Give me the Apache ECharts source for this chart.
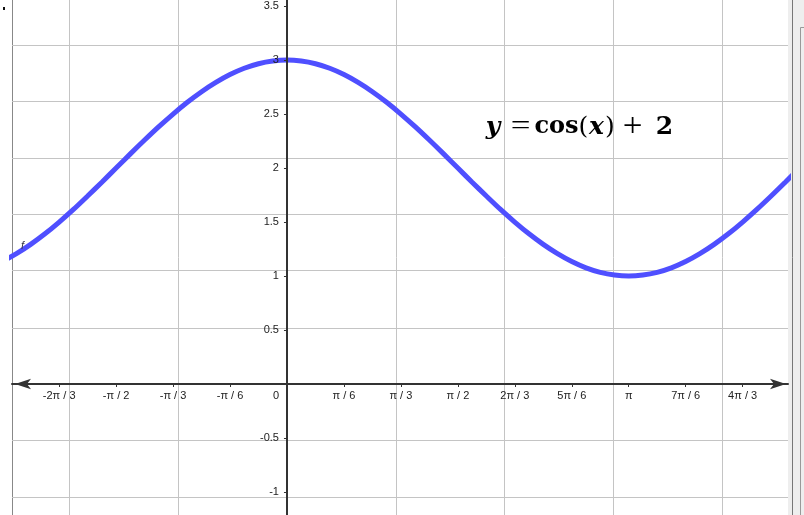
<!DOCTYPE html>
<html><head><meta charset="utf-8">
<script src="https://cdn.jsdelivr.net/npm/echarts@6/dist/echarts.min.js"></script>
<style>html,body{margin:0;padding:0;background:#fff}#c{width:804px;height:515px}</style>
</head><body><div id="c"></div>
<script>
const PI6 = Math.PI / 6;
// x tick positions in multiples of pi/6, with their labels
const xTickMultiples = [-4, -3, -2, -1, 0, 1, 2, 3, 4, 5, 6, 7, 8];
const xTickLabels = ['-2π / 3', '-π / 2', '-π / 3', '-π / 6', '0', 'π / 6', 'π / 3', 'π / 2', '2π / 3', '5π / 6', 'π', '7π / 6', '4π / 3'];
// y ticks
const yTickValues = [-1, -0.5, 0.5, 1, 1.5, 2, 2.5, 3, 3.5];
const yTickLabels = ['-1', '-0.5', '0.5', '1', '1.5', '2', '2.5', '3', '3.5'];
// background grid lines (x every 1 unit, y every pi/6)
const xGridValues = [-2, -1, 1, 2, 3, 4];
const yGridMultiples = [-2, -1, 1, 2, 3, 4, 5, 6];
// curve samples
const curveX = [-2.618, -2.487, -2.356, -2.225, -2.094, -1.963, -1.833, -1.702, -1.571, -1.440, -1.309, -1.178, -1.047, -0.916, -0.785, -0.654, -0.524, -0.393, -0.262, -0.131, 0, 0.131, 0.262, 0.393, 0.524, 0.654, 0.785, 0.916, 1.047, 1.178, 1.309, 1.440, 1.571, 1.702, 1.833, 1.963, 2.094, 2.225, 2.356, 2.487, 2.618, 2.749, 2.880, 3.011, 3.142, 3.272, 3.403, 3.534, 3.665, 3.796, 3.927, 4.058, 4.189, 4.320, 4.451, 4.581, 4.712];
const curveY = [1.134, 1.207, 1.293, 1.391, 1.5, 1.617, 1.741, 1.869, 2, 2.131, 2.259, 2.383, 2.5, 2.609, 2.707, 2.793, 2.866, 2.924, 2.966, 2.991, 3, 2.991, 2.966, 2.924, 2.866, 2.793, 2.707, 2.609, 2.5, 2.383, 2.259, 2.131, 2, 1.869, 1.741, 1.617, 1.5, 1.391, 1.293, 1.207, 1.134, 1.076, 1.034, 1.009, 1, 1.009, 1.034, 1.076, 1.134, 1.207, 1.293, 1.391, 1.5, 1.617, 1.741, 1.869, 2];

const X_MIN = -2.528, X_MAX = 4.606, Y_MIN = -1.213, Y_MAX = 3.556;
const xTickValues = xTickMultiples.map(k => k * PI6);
const curveData = curveX.map((x, i) => [x, curveY[i]]);
const gridLines = xGridValues.map(v => ({ xAxis: v })).concat(yGridMultiples.map(k => ({ yAxis: k * PI6 })));

const labelFont = 'Liberation Sans, Arial, sans-serif';
const eqFont = 'DejaVu Serif, serif';
const opFont = 'Liberation Serif, serif';
function eq(text, cx, style, weight, font, size, sx, sy) {
  return { type: 'text', x: cx, y: 127, z: 20, scaleX: sx || 1, scaleY: sy || 1,
    style: { text: text, fontSize: size || 25, fontFamily: font || eqFont, fontStyle: style, fontWeight: weight, fill: '#000', align: 'center', verticalAlign: 'middle' } };
}

const chart = echarts.init(document.getElementById('c'), null, { renderer: 'canvas' });
chart.setOption({
  animation: false,
  backgroundColor: '#fff',
  grid: { left: 12, right: 16, top: 0, bottom: 0, containLabel: false, outerBoundsMode: 'none' },
  xAxis: {
    type: 'value', min: X_MIN, max: X_MAX, z: 10, position: 'bottom', offset: 0,
    axisLine: { show: true, onZero: false, lineStyle: { color: '#333', width: 2 }, symbol: ['arrow', 'arrow'], symbolSize: [8, 16], symbolOffset: [3, -2] },
    axisTick: { show: true, length: 3, customValues: xTickValues, lineStyle: { color: '#333', width: 1 } },
    axisLabel: {
      show: true, customValues: xTickValues, fontSize: 11, color: '#222', fontFamily: labelFont, margin: 6,
      formatter: function (v) {
        const i = xTickMultiples.indexOf(Math.round(v / PI6));
        const t = i >= 0 ? xTickLabels[i] : '';
        return t === '0' ? '{z|0}' : t;
      },
      rich: { z: { padding: [0, 22, 0, 0], fontSize: 11, color: '#222', fontFamily: labelFont } }
    },
    splitLine: { show: false }
  },
  yAxis: {
    type: 'value', min: Y_MIN, max: Y_MAX, z: 10, position: 'left', offset: 0,
    axisLine: { show: true, onZero: false, lineStyle: { color: '#333', width: 2 } },
    axisTick: { show: true, length: 3, customValues: yTickValues, lineStyle: { color: '#333', width: 1 } },
    axisLabel: {
      show: true, customValues: yTickValues, fontSize: 11, color: '#222', fontFamily: labelFont, margin: 8,
      formatter: function (v) { const i = yTickValues.indexOf(v); return i >= 0 ? yTickLabels[i] : ''; }
    },
    splitLine: { show: false }
  },
  series: [
    {
      type: 'line', data: [], z: 1, silent: true,
      markLine: { silent: true, z: 1, symbol: 'none', animation: false, label: { show: false }, emphasis: { disabled: true },
        lineStyle: { color: '#c4c4c4', width: 1, type: 'solid' }, data: gridLines }
    },
    {
      type: 'line', data: curveData, z: 3, smooth: 0.3, showSymbol: false, silent: true,
      lineStyle: { color: '#4f4fff', width: 5 }
    }
  ],
  graphic: [
    { type: 'line', z: 0, shape: { x1: 12.5, y1: 0, x2: 12.5, y2: 515 }, style: { stroke: '#888', lineWidth: 1 } },
    { type: 'rect', z: 0, shape: { x: 788, y: 0, width: 16, height: 515 }, style: { fill: '#eeeeee' } },
    { type: 'line', z: 1, shape: { x1: 792.5, y1: 0, x2: 792.5, y2: 515 }, style: { stroke: '#777', lineWidth: 1 } },
    { type: 'line', z: 1, shape: { x1: 800.5, y1: 27.5, x2: 800.5, y2: 515 }, style: { stroke: '#999', lineWidth: 1 } },
    { type: 'line', z: 1, shape: { x1: 800.5, y1: 27.5, x2: 804, y2: 27.5 }, style: { stroke: '#999', lineWidth: 1 } },
    { type: 'rect', z: 1, shape: { x: 3, y: 7, width: 2, height: 3 }, style: { fill: '#111' } },
    { type: 'text', x: 21, y: 246, z: 20, style: { text: 'f', fontSize: 11, fontStyle: 'italic', fontFamily: labelFont, fill: '#334', align: 'left', verticalAlign: 'middle' } },
    eq('y', 493, 'italic', 'bold'),
    eq('=', 520.5, 'normal', 'normal', opFont, 28, 1.25, 1),
    eq('cos', 556.5, 'normal', 'bold', eqFont, 24),
    eq('(', 583.5, 'normal', 'normal'),
    eq('x', 596.5, 'italic', 'bold'),
    eq(')', 610, 'normal', 'normal'),
    eq('+', 632.5, 'normal', 'normal', opFont, 28, 1.25, 1.2),
    eq('2', 664.5, 'normal', 'bold')
  ]
});
// place the axes where the other axis has value 0, using the library's own scale
const zero = chart.convertToPixel({ gridIndex: 0 }, [0, 0]);
const corner = chart.convertToPixel({ gridIndex: 0 }, [X_MIN, Y_MIN]);
chart.setOption({
  xAxis: { offset: zero[1] - corner[1] },
  yAxis: { offset: corner[0] - zero[0] }
});
</script>
</body></html>
